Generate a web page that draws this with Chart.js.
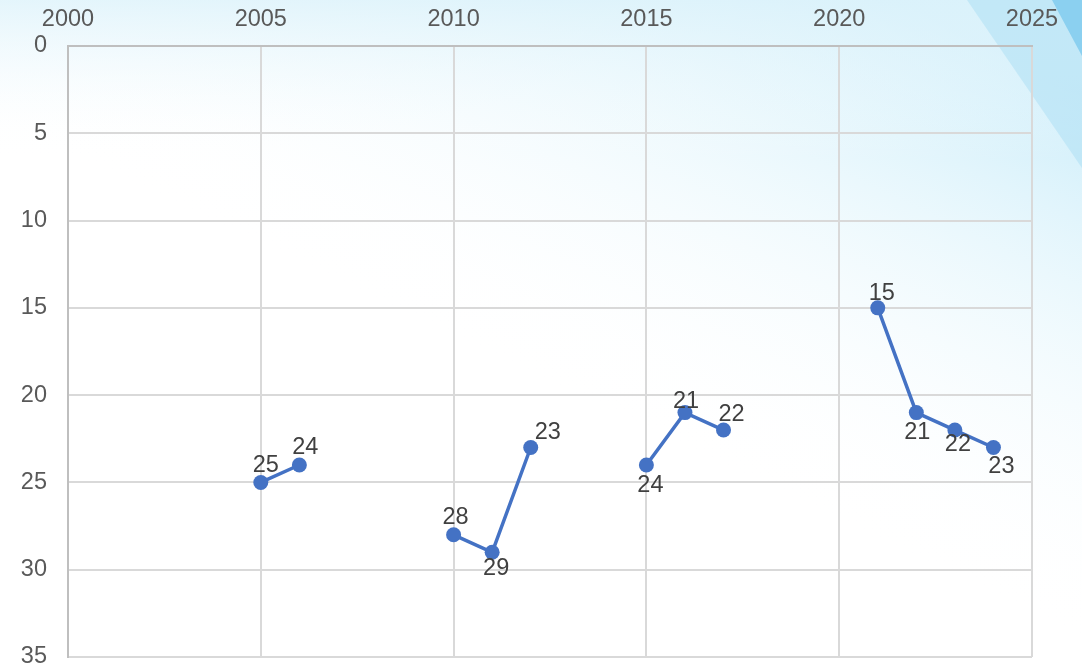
<!DOCTYPE html>
<html>
<head>
<meta charset="utf-8">
<script src="https://cdn.jsdelivr.net/npm/chart.js@4/dist/chart.umd.min.js"></script>
<style>
html,body{margin:0;padding:0;background:#fff;}
#wrap{width:1082px;height:667px;position:relative;}
</style>
</head>
<body>
<div id="wrap"><canvas id="c" width="1082" height="667"></canvas></div>
<script>
// Data
const years  = [2005, 2006, 2007, 2008, 2009, 2010, 2011, 2012, 2013, 2014, 2015, 2016, 2017, 2018, 2019, 2020, 2021, 2022, 2023, 2024];
const values = [25,   24,   null, null, null, 28,   29,   23,   null, null, 24,   21,   22,   null, null, null, 15,   21,   22,   23];
const xTicks = [2000, 2005, 2010, 2015, 2020, 2025];
const yTicks = [0, 5, 10, 15, 20, 25, 30, 35];

// Label placement (offset of label centre from the point, px) - styling only
const labelOffsets = {
  2005: [5, -17], 2006: [6, -17], 2010: [2, -17], 2011: [4, 16], 2012: [17, -15],
  2015: [4, 21], 2016: [1, -11], 2017: [8, -16], 2021: [4, -14], 2022: [1, 20],
  2023: [3, 14], 2024: [8, 19]
};

const FONT = "'Liberation Sans', Arial, sans-serif";
const FSIZE = 23.5;

const bgPlugin = {
  id: 'bg',
  beforeDraw(chart) {
    const ctx = chart.ctx, W = chart.width, H = chart.height;
    ctx.save();
    ctx.fillStyle = '#ffffff';
    ctx.fillRect(0, 0, W, H);
    let g = ctx.createLinearGradient(W * 0.75, -40, W * 0.55, H * 0.62);
    g.addColorStop(0, 'rgba(195,234,249,0.85)');
    g.addColorStop(0.45, 'rgba(225,245,252,0.5)');
    g.addColorStop(1, 'rgba(255,255,255,0)');
    ctx.fillStyle = g;
    ctx.fillRect(0, 0, W, H);
    let g2 = ctx.createLinearGradient(0, 0, 0, 160);
    g2.addColorStop(0, 'rgba(222,243,251,0.8)');
    g2.addColorStop(1, 'rgba(255,255,255,0)');
    ctx.fillStyle = g2;
    ctx.fillRect(0, 0, W, 160);
    // light triangle
    ctx.fillStyle = 'rgba(170,222,244,0.5)';
    ctx.beginPath();
    ctx.moveTo(967, 0); ctx.lineTo(W, 0); ctx.lineTo(W, 168); ctx.closePath();
    ctx.fill();
    // darker band
    ctx.fillStyle = 'rgba(115,198,236,0.7)';
    ctx.beginPath();
    ctx.moveTo(1052, 0); ctx.lineTo(W, 0); ctx.lineTo(W, 56); ctx.closePath();
    ctx.fill();
    ctx.restore();
  }
};

const labelPlugin = {
  id: 'vlabels',
  afterDatasetsDraw(chart) {
    const ctx = chart.ctx;
    const meta = chart.getDatasetMeta(0);
    ctx.save();
    ctx.font = FSIZE + 'px ' + FONT;
    ctx.fillStyle = '#404040';
    ctx.textAlign = 'center';
    ctx.textBaseline = 'middle';
    meta.data.forEach((el, i) => {
      const v = values[i];
      if (v === null) return;
      const off = labelOffsets[years[i]] || [0, -17];
      ctx.fillText(String(v), el.x + off[0], el.y + off[1]);
    });
    ctx.restore();
  }
};

new Chart(document.getElementById('c'), {
  type: 'line',
  data: {
    datasets: [{
      data: years.map((y, i) => ({ x: y, y: values[i] })),
      borderColor: '#4472c4',
      backgroundColor: '#4472c4',
      borderWidth: 3.5,
      pointRadius: 7.5,
      pointHoverRadius: 7.5,
      pointBackgroundColor: '#4472c4',
      pointBorderWidth: 0,
      spanGaps: false,
      tension: 0
    }]
  },
  options: {
    responsive: false,
    animation: false,
    layout: { padding: { top: 0, right: 50, bottom: 10, left: 0 } },
    plugins: { legend: { display: false }, tooltip: { enabled: false } },
    scales: {
      x: {
        type: 'linear', position: 'top', min: 2000, max: 2025,
        afterBuildTicks(s) { s.ticks = xTicks.map(v => ({ value: v })); },
        afterFit(s) { s.height = 46; s.paddingLeft = 0; s.paddingRight = 0; },
        ticks: { color: '#595959', font: { size: FSIZE, family: FONT }, padding: 12, maxRotation: 0,
                 callback: v => String(v) },
        grid: { color: '#d9d9d9', lineWidth: 2, drawTicks: false },
        border: { color: '#bfbfbf', width: 2 }
      },
      y: {
        type: 'linear', reverse: true, min: 0, max: 35,
        afterBuildTicks(s) { s.ticks = yTicks.map(v => ({ value: v })); },
        afterFit(s) { s.width = 68; s.paddingTop = 0; s.paddingBottom = 0; },
        ticks: { color: '#595959', font: { size: FSIZE, family: FONT }, padding: 21 },
        grid: { color: '#d9d9d9', lineWidth: 2, drawTicks: false },
        border: { color: '#bfbfbf', width: 2 }
      }
    }
  },
  plugins: [bgPlugin, labelPlugin]
});
</script>
</body>
</html>
